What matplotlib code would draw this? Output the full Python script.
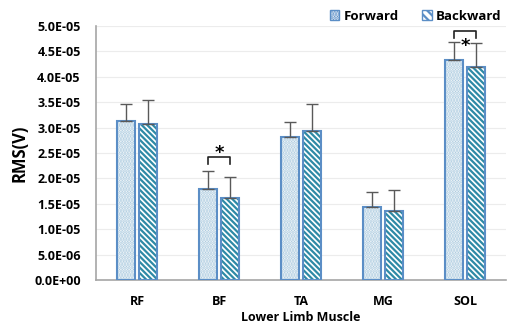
import matplotlib
matplotlib.use("Agg")
import matplotlib.pyplot as plt
import numpy as np

categories = ["RF", "BF", "TA", "MG", "SOL"]
forward = [3.13e-5, 1.80e-5, 2.81e-5, 1.44e-5, 4.34e-5]
forward_err = [0.34e-5, 0.34e-5, 0.31e-5, 0.29e-5, 0.35e-5]
backward = [3.08e-5, 1.61e-5, 2.93e-5, 1.35e-5, 4.19e-5]
backward_err = [0.46e-5, 0.41e-5, 0.54e-5, 0.42e-5, 0.48e-5]
yticks = [0, 0.5e-5, 1.0e-5, 1.5e-5, 2.0e-5, 2.5e-5, 3.0e-5, 3.5e-5, 4.0e-5, 4.5e-5, 5.0e-5]
ytick_labels = ["0.0E+00", "5.0E-06", "1.0E-05", "1.5E-05", "2.0E-05", "2.5E-05",
                "3.0E-05", "3.5E-05", "4.0E-05", "4.5E-05", "5.0E-05"]

plt.rcParams['font.family'] = ['Open Sans', 'DejaVu Sans']
plt.rcParams['hatch.linewidth'] = 1.6

fig = plt.figure(figsize=(5.09, 3.27), dpi=100)
ax = fig.add_axes([0.1886, 0.1437, 0.806, 0.7768])

x = np.arange(len(categories))
w = 0.22
gap = 0.05
xf = x - (w + gap) / 2
xb = x + (w + gap) / 2
edge = "#5b8ec6"

ax.bar(xf, forward, w, color="white", edgecolor="#a9c9de", hatch="......", linewidth=0, zorder=2)
ax.bar(xf, forward, w, fill=False, edgecolor=edge, linewidth=1.5, zorder=3)
ax.bar(xb, backward, w, color="white", edgecolor="#2e8aa6", hatch="\\\\\\\\\\\\", linewidth=0, zorder=2)
ax.bar(xb, backward, w, fill=False, edgecolor=edge, linewidth=1.5, zorder=3)

ax.errorbar(xf, forward, yerr=[np.zeros(5), forward_err], fmt="none", ecolor="#595959",
            elinewidth=1, capsize=4, capthick=1, zorder=4)
ax.errorbar(xb, backward, yerr=[np.zeros(5), backward_err], fmt="none", ecolor="#595959",
            elinewidth=1, capsize=4, capthick=1, zorder=4)

# significance brackets
def bracket(i, ytop, leg, star_y):
    ax.plot([xf[i], xf[i], xb[i], xb[i]], [ytop - leg, ytop, ytop, ytop - leg],
            color="#222222", lw=1.2, zorder=5, clip_on=False)
    ax.text(x[i], star_y, "*", ha="center", va="center", fontsize=13, fontweight="bold",
            family="DejaVu Sans", zorder=5)

bracket(1, 2.43e-5, 0.14e-5, 2.50e-5)
bracket(4, 4.91e-5, 0.15e-5, 4.60e-5)

ax.set_xlim(-0.5, 4.5)
ax.set_ylim(0, 5.0e-5)
ax.set_yticks(yticks)
ax.set_yticklabels(ytick_labels, fontsize=9, fontweight="bold")
ax.set_xticks(x)
ax.set_xticklabels(categories, fontsize=9, fontweight="bold")
ax.tick_params(axis="y", length=0, pad=11)
ax.tick_params(axis="x", length=0, pad=11)
ax.yaxis.grid(True, color="#ececec", linewidth=0.8, zorder=0)
ax.set_axisbelow(True)
for s in ["top", "right"]:
    ax.spines[s].set_visible(False)
ax.spines["left"].set_color("#a6a6a6")
ax.spines["bottom"].set_color("#a6a6a6")
ax.spines["left"].set_linewidth(1.2)
ax.spines["bottom"].set_linewidth(1.2)

ax.set_ylabel("RMS(V)", fontsize=12, fontweight="bold", labelpad=4)
ax.set_xlabel("Lower Limb Muscle", fontsize=9, fontweight="bold", labelpad=2)

from matplotlib.patches import Patch
h1 = Patch(facecolor="white", edgecolor=edge, hatch="......", linewidth=1)
h2 = Patch(facecolor="white", edgecolor=edge, hatch="\\\\\\\\", linewidth=1)
leg = ax.legend([h1, h2], ["Forward", "Backward"], loc="upper right", bbox_to_anchor=(1.0, 1.085),
                ncol=2, frameon=False, prop={"size": 9.5, "weight": "bold"},
                handlelength=0.7, handleheight=0.7,
                handletextpad=0.3, columnspacing=1.8, borderaxespad=0)

fig.savefig("out.png", dpi=100)
